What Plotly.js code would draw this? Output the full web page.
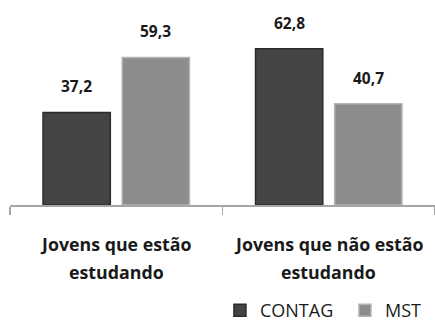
<!DOCTYPE html>
<html>
<head>
<meta charset="utf-8">
<script src="https://cdn.plot.ly/plotly-3.0.1.min.js"></script>
<style>html,body{margin:0;padding:0;background:#fff;}#chart{width:435px;height:329px;}</style>
</head>
<body>
<div id="chart"></div>
<script>
var categories = ["Jovens que estão<br>estudando", "Jovens que não estão<br>estudando"];
var seriesNames = ["CONTAG", "MST"];
var contag = [37.2, 62.8];
var mst = [59.3, 40.7];

var FONT = "Open Sans, Lato, sans-serif";
var colors = ["#444444", "#8c8c8c"];
var lineColors = ["#2b2b2b", "#b4b4b4"];
var values = [contag, mst];

var traces = values.map(function(v, i){
  return {
    type: "bar",
    name: seriesNames[i],
    x: categories,
    y: v,
    marker: {color: colors[i], line: {color: lineColors[i], width: 1.5}},
    hoverinfo: "none"
  };
});

function fmt(v){ return v.toFixed(1).replace(".", ","); }

var annotations = [];
var barShift = 39.5;
values.forEach(function(v, i){
  v.forEach(function(val, j){
    annotations.push({
      x: categories[j], y: val, xref: "x", yref: "y",
      text: "<b>" + fmt(val) + "</b>",
      showarrow: false, yanchor: "bottom",
      xshift: (i === 0 ? -barShift : barShift), yshift: 13,
      font: {family: FONT, size: 15.5, color: "#1a1a1a"}
    });
  });
});
categories.forEach(function(c){
  c.split("<br>").forEach(function(line, k){
    annotations.push({
      x: c, y: 0, xref: "x", yref: "paper",
      text: "<b>" + line + "</b>",
      showarrow: false, yanchor: "top",
      yshift: -25 - 28 * k,
      font: {family: FONT, size: 17.8, color: "#1a1a1a"}
    });
  });
});

var layout = {
  width: 435, height: 329,
  margin: {l: 10, r: 0, t: 6, b: 124, autoexpand: false},
  paper_bgcolor: "#ffffff", plot_bgcolor: "#ffffff",
  barmode: "group",
  bargap: 0.255,
  bargroupgap: 0.15,
  showlegend: true,
  legend: {
    orientation: "h", x: 0.494, xanchor: "left", y: -0.623, yanchor: "bottom",
    font: {family: FONT, size: 18, color: "#1a1a1a"},
    entrywidth: 80, entrywidthmode: "pixels",
    traceorder: "normal"
  },
  xaxis: {
    type: "category",
    showticklabels: false,
    showline: true, linecolor: "#a6a6a6", linewidth: 1.5,
    ticks: "outside", tickson: "boundaries", ticklen: 8, tickcolor: "#a6a6a6", tickwidth: 1.5,
    showgrid: false, zeroline: false, fixedrange: true
  },
  yaxis: {
    range: [0, 80], visible: false, showgrid: false, zeroline: false, fixedrange: true
  },
  annotations: annotations,
  font: {family: FONT}
};

Plotly.newPlot("chart", traces, layout, {displayModeBar: false, staticPlot: true});
</script>
</body>
</html>
